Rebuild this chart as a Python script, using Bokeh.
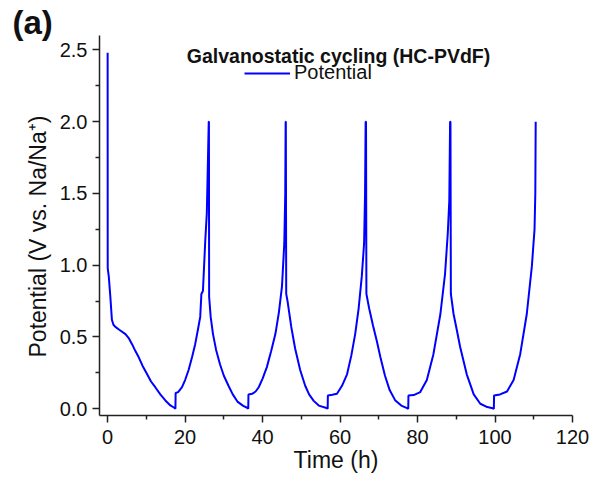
from bokeh.plotting import figure
from bokeh.models import Label, Legend, LegendItem, FixedTicker, PrintfTickFormatter, Range1d, Title
from bokeh.embed import file_html
from bokeh.resources import INLINE

# ---- data ----
time_h = [
    0.0, 0.02, 0.3, 0.7, 1.1, 1.5, 2.0, 3.0, 4.6, 5.5, 6.3, 7.2, 8.0, 9.0, 10.2, 11.2, 12.3, 13.6, 14.9, 16.2, 17.2, 17.5,
    17.55, 18.2, 19.2, 20.0, 20.9, 21.8, 22.6, 23.3, 23.9, 24.2, 24.6, 25.2, 25.6, 25.8, 26.1,
    26.15, 26.2, 26.6, 27.2, 28.0, 29.0, 30.0, 31.2, 32.3, 33.5, 35.0, 36.0, 36.3,
    36.35, 37.3, 38.2, 39.0, 40.0, 41.1, 42.2, 43.3, 44.2, 45.0, 45.6, 45.85, 45.95,
    46.0, 46.1, 46.5, 47.4, 48.4, 49.7, 51.0, 52.0, 53.2, 54.5, 56.5, 56.8,
    56.85, 58.0, 59.2, 60.5, 61.8, 62.9, 63.9, 64.8, 65.6, 66.2, 66.45, 66.6,
    66.7, 66.8, 67.5, 68.5, 69.5, 70.4, 71.6, 72.8, 74.2, 75.8, 77.3, 77.6,
    77.65, 79.0, 80.7, 82.4, 84.1, 85.9, 87.1, 87.8, 88.2, 88.4,
    88.5, 88.6, 89.3, 90.2, 91.0, 92.7, 94.5, 96.2, 98.0, 99.4, 99.7,
    99.75, 101.3, 103.1, 104.8, 106.5, 108.2, 109.5, 110.2, 110.4, 110.5,
]
potential_v = [
    2.48, 0.98, 0.92, 0.78, 0.62, 0.585, 0.57, 0.55, 0.52, 0.49, 0.45, 0.40, 0.36, 0.30, 0.24, 0.19, 0.15, 0.10, 0.058, 0.023, 0.007, 0.0,
    0.11, 0.116, 0.15, 0.20, 0.27, 0.36, 0.45, 0.55, 0.64, 0.80, 0.82, 1.17, 1.36, 1.61, 2.0,
    2.0, 0.78, 0.64, 0.52, 0.41, 0.31, 0.23, 0.16, 0.10, 0.05, 0.02, 0.007, 0.0,
    0.10, 0.104, 0.12, 0.15, 0.21, 0.29, 0.40, 0.52, 0.67, 0.85, 1.15, 1.5, 2.0,
    2.0, 0.80, 0.74, 0.57, 0.42, 0.27, 0.16, 0.10, 0.055, 0.022, 0.005, 0.0,
    0.093, 0.097, 0.104, 0.16, 0.24, 0.37, 0.52, 0.70, 0.92, 1.15, 1.5, 2.0,
    2.0, 0.80, 0.70, 0.58, 0.47, 0.36, 0.23, 0.13, 0.06, 0.022, 0.004, 0.0,
    0.093, 0.095, 0.116, 0.20, 0.38, 0.66, 0.94, 1.22, 1.45, 2.0,
    2.0, 0.80, 0.66, 0.54, 0.43, 0.24, 0.10, 0.035, 0.012, 0.003, 0.0,
    0.093, 0.10, 0.12, 0.20, 0.38, 0.66, 0.99, 1.25, 1.5, 2.0,
]
x_major_ticks = [0, 20, 40, 60, 80, 100, 120]
x_minor_ticks = [10, 30, 50, 70, 90, 110]
y_major_ticks = [0.0, 0.5, 1.0, 1.5, 2.0, 2.5]
y_minor_ticks = [0.25, 0.75, 1.25, 1.75, 2.25]

FONT = "Liberation Sans"
AX = "#222222"
TXT = "#111111"

p = figure(width=590, height=479, output_backend="svg", toolbar_location=None,
           x_range=Range1d(-2.1, 120), y_range=Range1d(-0.047, 2.6),
           min_border_left=99, min_border_right=18, min_border_top=35, min_border_bottom=64)
p.outline_line_color = None
p.grid.visible = False
p.background_fill_color = "white"
p.border_fill_color = "white"

r = p.line(time_h, potential_v, line_color="#0000FF", line_width=2)

for ax, maj, mnr in ((p.xaxis[0], x_major_ticks, x_minor_ticks), (p.yaxis[0], y_major_ticks, y_minor_ticks)):
    ax.ticker = FixedTicker(ticks=maj, minor_ticks=mnr)
    ax.axis_line_color = AX
    ax.axis_line_width = 1.5
    ax.major_tick_line_color = AX
    ax.major_tick_line_width = 1.5
    ax.minor_tick_line_color = AX
    ax.minor_tick_line_width = 1.5
    ax.major_tick_in = 0
    ax.major_tick_out = 7
    ax.minor_tick_in = 0
    ax.minor_tick_out = 4
    ax.major_label_text_font = FONT
    ax.major_label_text_font_size = "20px"
    ax.major_label_text_color = TXT
    ax.major_label_standoff = 5

p.yaxis[0].formatter = PrintfTickFormatter(format="%.1f")
p.xaxis[0].major_label_standoff = 7
p.xaxis[0].axis_label = "Time (h)"
p.xaxis[0].axis_label_standoff = 0
p.xaxis[0].axis_label_text_font = FONT
p.xaxis[0].axis_label_text_font_size = "23px"
p.xaxis[0].axis_label_text_font_style = "normal"
p.xaxis[0].axis_label_text_color = TXT

# y-axis label as a side title so it can sit lower than the frame centre, like the reference
p.add_layout(Title(text="Potential (V vs. Na/Na\u207a)", align="left", offset=58, standoff=11,
                   text_font=FONT, text_font_size="23px", text_font_style="normal",
                   text_color=TXT), "left")
# panel tag
p.add_layout(Title(text="(a)", align="left", offset=-87, standoff=-11,
                   text_font=FONT, text_font_size="33px", text_font_style="bold",
                   text_color=TXT), "above")

# chart title inside the frame
p.add_layout(Label(x=59.6, y=2.454, text="Galvanostatic cycling (HC-PVdF)", text_align="center",
                   text_baseline="alphabetic", text_font=FONT, text_font_size="19.5px",
                   text_font_style="bold", text_color=TXT))

legend = Legend(items=[LegendItem(label="Potential", renderers=[r])], location=(145, 331),
                glyph_width=46, glyph_height=20, label_standoff=4, padding=0, margin=0, spacing=0,
                border_line_alpha=0, background_fill_alpha=0,
                label_text_font=FONT, label_text_font_size="20px", label_text_color=TXT)
p.add_layout(legend)

open("out.html", "w").write(file_html(p, INLINE))
